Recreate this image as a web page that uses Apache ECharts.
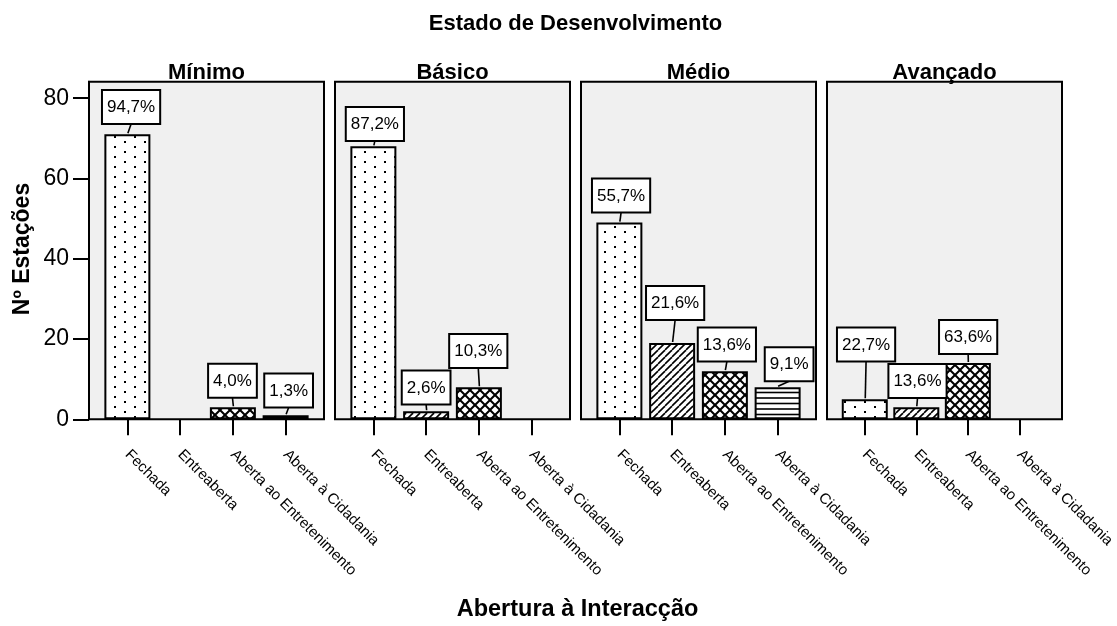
<!DOCTYPE html>
<html><head><meta charset="utf-8">
<script src="https://cdn.jsdelivr.net/npm/echarts@6/dist/echarts.min.js"></script>
<style>html,body{margin:0;padding:0;background:#fff}#c{width:1117px;height:626px}</style>
</head><body><div id="c"></div>
<script>
// ---------- data ----------
const chartTitle = 'Estado de Desenvolvimento';
const xTitle = 'Abertura à Interacção';
const yTitle = 'Nº Estações';
const panels = ['Mínimo', 'Básico', 'Médio', 'Avançado'];
const categories = ['Fechada', 'Entreaberta', 'Aberta ao Entretenimento', 'Aberta à Cidadania'];
const minimoValues = [71, 0, 3, 1];
const basicoValues = [68, 2, 8, 0];
const medioValues = [49, 19, 12, 8];
const avancadoValues = [5, 3, 14, 0];
const minimoLabels = ['94,7%', '', '4,0%', '1,3%'];
const basicoLabels = ['87,2%', '2,6%', '10,3%', ''];
const medioLabels = ['55,7%', '21,6%', '13,6%', '9,1%'];
const avancadoLabels = ['22,7%', '13,6%', '63,6%', ''];
const yTicks = [0, 20, 40, 60, 80];

const panelValues = [minimoValues, basicoValues, medioValues, avancadoValues];
const panelLabels = [minimoLabels, basicoLabels, medioLabels, avancadoLabels];

// ---------- layout (positions / styles) ----------
const FONT = '"Liberation Sans", Arial, sans-serif';
const frameLeft = [89, 335, 581, 827];
const FRAME_W = 235, FRAME_TOP = 81.7, FRAME_H = 337.6, INSET = 12;
const Y_MAX = 84.1;
// [box dx from bar centre, gap between bar top and box bottom]
const labelOffsets = [
  [[3.7, 9.3], null, [-0.4, 8.4], [3, 6.7]],
  [[1.5, 4.4], [0, 5.7], [-0.6, 18.3], null],
  [[1.7, 9], [3, 22], [2, 8.6], [11.5, 5]],
  [[1.3, 36.7], [1.2, 8.3], [0.3, 8], null]
];

function makePattern(kind) {
  const c = document.createElement('canvas');
  const ctx = c.getContext('2d');
  if (kind === 'dots') {
    c.width = 20; c.height = 10;
    ctx.fillStyle = '#fff'; ctx.fillRect(0, 0, 20, 10);
    ctx.fillStyle = '#000';
    ctx.fillRect(4, 1, 2, 2); ctx.fillRect(14, 6, 2, 2);
  } else if (kind === 'diag') {
    const s = 7; c.width = s; c.height = s;
    ctx.fillStyle = '#fff'; ctx.fillRect(0, 0, s, s);
    ctx.strokeStyle = '#000'; ctx.lineWidth = 1.6;
    for (let k = -1; k <= 1; k++) { ctx.beginPath(); ctx.moveTo(k * s, s); ctx.lineTo(k * s + s, 0); ctx.stroke(); }
  } else if (kind === 'cross') {
    const s = 10; c.width = s; c.height = s;
    ctx.fillStyle = '#fff'; ctx.fillRect(0, 0, s, s);
    ctx.strokeStyle = '#000'; ctx.lineWidth = 2;
    for (let k = -1; k <= 1; k++) {
      ctx.beginPath(); ctx.moveTo(k * s, s); ctx.lineTo(k * s + s, 0); ctx.stroke();
      ctx.beginPath(); ctx.moveTo(k * s, 0); ctx.lineTo(k * s + s, s); ctx.stroke();
    }
  } else {
    c.width = 4; c.height = 11;
    ctx.fillStyle = '#fff'; ctx.fillRect(0, 0, 4, 11);
    ctx.fillStyle = '#000';
    ctx.fillRect(0, 1.2, 4, 1.6); ctx.fillRect(0, 6.7, 4, 1.6);
  }
  return { image: c, repeat: 'repeat' };
}
const patterns = [makePattern('dots'), makePattern('diag'), makePattern('cross'), makePattern('hlines')];

const grids = [], xAxes = [], yAxes = [], series = [], graphics = [];
panels.forEach((name, p) => {
  const left = frameLeft[p];
  graphics.push({ type: 'rect', z: -10, shape: { x: left, y: FRAME_TOP, width: FRAME_W, height: FRAME_H },
    style: { fill: '#f0f0f0', stroke: '#000', lineWidth: 2 } });
  graphics.push({ type: 'text', x: left + FRAME_W / 2, y: 72.5,
    style: { text: name, font: 'bold 22px ' + FONT, fill: '#000', align: 'center', verticalAlign: 'middle' } });
  grids.push({ left: left + INSET, width: FRAME_W - 2 * INSET, top: FRAME_TOP, height: FRAME_H, containLabel: false });
  xAxes.push({
    type: 'category', gridIndex: p, data: categories,
    axisLine: { show: false },
    axisTick: { show: true, alignWithLabel: true, length: 16, lineStyle: { color: '#000', width: 2 } },
    axisLabel: { interval: 0, rotate: -45, margin: 33, fontSize: 15, fontFamily: FONT, color: '#000' }
  });
  yAxes.push({
    type: 'value', gridIndex: p, min: 0, max: Y_MAX, show: p === 0, offset: INSET,
    axisLine: { show: true, lineStyle: { color: '#000', width: 2 } },
    axisTick: { show: true, length: 16, customValues: yTicks, lineStyle: { color: '#000', width: 2 } },
    axisLabel: { customValues: yTicks, fontSize: 23, fontFamily: FONT, color: '#000', margin: 20, padding: [9, 0, 0, 0] },
    splitLine: { show: false }
  });
  series.push({
    type: 'bar', xAxisIndex: p, yAxisIndex: p, barWidth: 46, z: 2,
    data: panelValues[p].map((v, i) => ({ value: v,
      itemStyle: { color: patterns[i], borderColor: '#000', borderWidth: v > 0 ? 2 : 0 } })),
    silent: true
  });
  series.push({
    type: 'custom', xAxisIndex: p, yAxisIndex: p, z: 5, silent: true,
    data: panelValues[p].map((v, i) => [i, v]),
    renderItem: function (params, api) {
      const i = params.dataIndex;
      const txt = panelLabels[p][i];
      const off = labelOffsets[p][i];
      if (!txt || !off) return null;
      const pt = api.coord([api.value(0), api.value(1)]);
      const barTop = pt[1] - 1;
      const boxBottom = barTop - off[1];
      const cx = pt[0] + off[0];
      return {
        type: 'group', children: [
          { type: 'line', shape: { x1: pt[0] + 0.5, y1: barTop, x2: cx, y2: boxBottom }, style: { stroke: '#000', lineWidth: 1.6 } },
          { type: 'text', x: cx, y: boxBottom - 1, style: {
              text: txt, fontSize: 17, fontFamily: FONT, fill: '#000', align: 'center', verticalAlign: 'bottom',
              backgroundColor: '#fff', borderColor: '#000', borderWidth: 2, padding: [8, 4, 7, 4] } }
        ]
      };
    }
  });
});

graphics.push({ type: 'text', x: 575.5, y: 23.5,
  style: { text: chartTitle, font: 'bold 22px ' + FONT, fill: '#000', align: 'center', verticalAlign: 'middle' } });
graphics.push({ type: 'text', x: 577.5, y: 610,
  style: { text: xTitle, font: 'bold 23.5px ' + FONT, fill: '#000', align: 'center', verticalAlign: 'middle' } });
graphics.push({ type: 'text', x: 22.5, y: 249, rotation: Math.PI / 2,
  style: { text: yTitle, font: 'bold 23px ' + FONT, fill: '#000', align: 'center', verticalAlign: 'middle' } });

const chart = echarts.init(document.getElementById('c'), null, { renderer: 'canvas' });
chart.setOption({
  animation: false,
  backgroundColor: '#fff',
  grid: grids, xAxis: xAxes, yAxis: yAxes, series: series,
  graphic: { elements: graphics }
});
</script>
</body></html>
